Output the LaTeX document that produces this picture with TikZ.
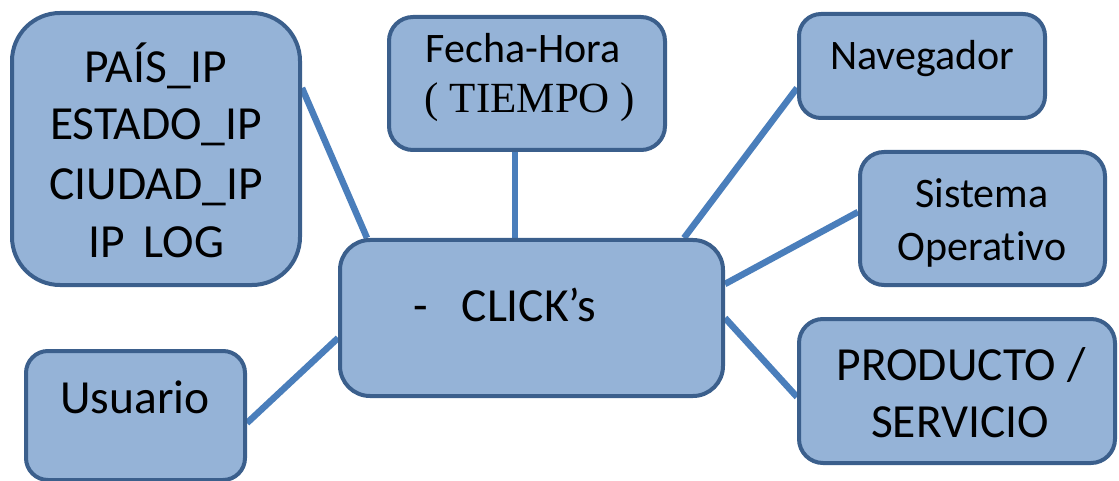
\documentclass[tikz,border=0pt]{standalone}
\usepackage{fontspec}
\setmainfont[Ligatures=NoCommon]{Carlito}
\newfontfamily\timesfont{Liberation Serif}
\usetikzlibrary{backgrounds}

\definecolor{boxfill}{HTML}{95B3D7}
\definecolor{boxline}{HTML}{3B5F8C}
\definecolor{linkblue}{HTML}{4A7EBB}

\tikzset{
  box/.style={draw=boxline, fill=boxfill, line width=4pt, rectangle,
              rounded corners=#1, inner sep=0pt},
  box/.default=24pt,
  txt/.style={anchor=base, inner sep=0pt, font=#1},
  link/.style={draw=linkblue, line width=6.5pt},
}

\newcommand{\bigsz}{\fontsize{47.5}{56}\selectfont}
\newcommand{\midsz}{\fontsize{42}{50}\selectfont}
\newcommand{\serifsz}{\fontsize{43}{50}\selectfont}

\begin{document}
\begin{tikzpicture}[x=1pt, y=-1pt]
  \useasboundingbox (0,0) rectangle (1119,481);

  % boxes
  \node[box=48pt, minimum width=288pt, minimum height=272pt] (pais) at (156,149) {};
  \node[box, minimum width=276pt, minimum height=133pt] (fecha) at (527,83.5) {};
  \node[box=22pt, minimum width=246pt, minimum height=104pt] (nav) at (922,66) {};
  \node[box, minimum width=245pt, minimum height=133pt] (sis) at (982.5,218.5) {};
  \node[box, minimum width=316pt, minimum height=144pt] (prod) at (957,391) {};
  \node[box=30pt, minimum width=383pt, minimum height=156pt] (click) at (531.5,318) {};
  \node[box=22pt, minimum width=219pt, minimum height=129pt] (usu) at (135.5,415.5) {};

  % texts
  \node[txt=\bigsz] (t1) at (156,83) {PAÍS\_IP};
  \node[txt=\bigsz] (t2) at (156,140) {ESTADO\_IP};
  \node[txt=\bigsz] (t3) at (156,200) {CIUDAD\_IP};
  \node[txt=\bigsz] (t4) at (156,258) {IP\hspace{0.4em}LOG};

  \node[txt=\midsz] (t5) at (523,63) {Fecha-Hora};
  \node[txt=\timesfont\serifsz] (t6) at (530,113) {( TIEMPO )};

  \node[txt=\midsz] (t7) at (922,70) {Navegador};
  \node[txt=\midsz] (t8) at (982,208) {Sistema};
  \node[txt=\midsz] (t9) at (982,260) {Operativo};

  \node[txt=\bigsz] (t10) at (961,380) {PRODUCTO /};
  \node[txt=\bigsz] (t11) at (960,437) {SERVICIO};

  \node[txt=\bigsz, anchor=base west] (t12) at (413,321) {-\hspace{34pt}CLICK’s};

  \node[txt=\bigsz] (t13) at (135,413) {Usuario};

  % connectors
  \begin{scope}[on background layer]
    \draw[link] (pais.east |- 0,88) -- (click.north -| 367,0);
    \draw[link] (fecha.south -| 515,0) -- (click.north -| 515,0);
    \draw[link] (nav.west |- 0,88) -- (click.north -| 684,0);
    \draw[link] (sis.west |- 0,212) -- (click.east |- 0,284);
    \draw[link] (prod.west |- 0,397) -- (click.east |- 0,318);
    \draw[link] (usu.east |- 0,423) -- (click.west |- 0,338);
  \end{scope}
\end{tikzpicture}
\end{document}
